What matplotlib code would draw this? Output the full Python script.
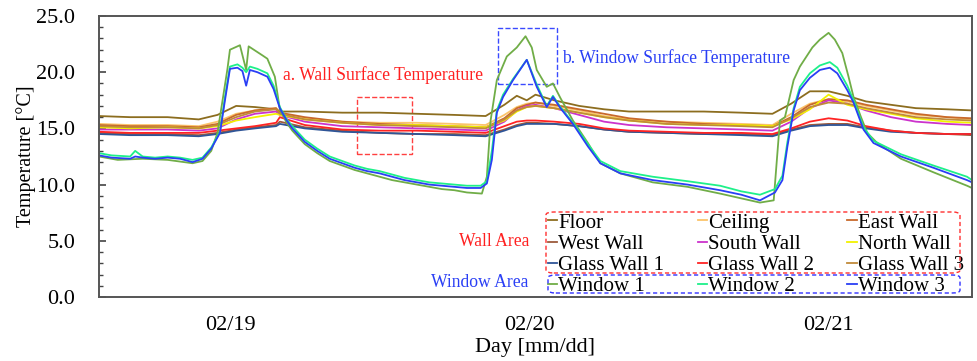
import matplotlib
matplotlib.use("Agg")
import matplotlib.pyplot as plt
from matplotlib.patches import FancyBboxPatch
from matplotlib.ticker import MultipleLocator, FormatStrFormatter

plt.rcParams['font.family'] = ['Liberation Serif', 'DejaVu Serif']

# hours counted from 02/19 00:00
wall_hours = [1.5, 4, 7, 9.5, 11, 12.5, 14, 15.7, 16.0, 18, 21, 24, 27, 30, 32.5, 34, 35, 35.8,
              36.5, 38, 40, 42, 44, 47, 50, 53, 55.5, 57, 58.5, 60, 61.5, 63, 65, 67, 69.5, 71.5]

floor = [16.1, 16.0, 16.0, 15.8, 16.2, 17.0, 16.9, 16.7, 16.5, 16.5, 16.4, 16.4, 16.3, 16.2, 16.1, 17.1, 17.9, 17.5,
         18.0, 17.5, 17.0, 16.7, 16.5, 16.5, 16.5, 16.4, 16.3, 17.2, 18.3, 18.3, 17.9, 17.4, 17.1, 16.8, 16.7, 16.6]
ceiling = [15.4, 15.3, 15.3, 15.2, 15.6, 16.3, 16.6, 16.8, 16.3, 15.9, 15.6, 15.5, 15.5, 15.4, 15.3, 16.2, 16.9, 17.2,
           17.3, 17.0, 16.6, 16.1, 15.8, 15.6, 15.5, 15.4, 15.3, 16.3, 17.2, 17.6, 17.4, 17.0, 16.6, 16.2, 16.0, 15.8]
east_wall = [15.3, 15.2, 15.2, 15.1, 15.4, 16.2, 16.6, 16.8, 16.4, 16.0, 15.6, 15.4, 15.3, 15.2, 15.1, 15.9, 16.8, 17.1,
             17.3, 17.1, 16.7, 16.3, 15.9, 15.6, 15.4, 15.3, 15.2, 16.0, 17.1, 17.6, 17.5, 17.1, 16.7, 16.3, 16.0, 15.9]
glass_wall_3 = [15.2, 15.1, 15.1, 15.0, 15.3, 16.0, 16.5, 16.7, 16.3, 15.8, 15.5, 15.3, 15.2, 15.1, 15.0, 15.8, 16.6, 16.9,
                17.0, 16.8, 16.4, 16.0, 15.7, 15.4, 15.3, 15.2, 15.1, 15.9, 16.9, 17.3, 17.2, 16.8, 16.4, 16.0, 15.8, 15.7]
north_wall = [15.1, 15.0, 15.1, 15.0, 15.2, 15.7, 16.0, 16.3, 16.2, 15.8, 15.5, 15.3, 15.3, 15.2, 15.1, 15.7, 16.5, 16.9,
              17.0, 16.8, 16.4, 16.0, 15.7, 15.4, 15.3, 15.3, 15.2, 15.8, 16.7, 18.0, 17.1, 16.7, 16.3, 15.9, 15.6, 15.5]
south_wall = [14.9, 14.9, 14.9, 14.8, 15.0, 15.8, 16.3, 16.5, 16.2, 15.6, 15.2, 15.1, 15.0, 14.9, 14.8, 15.6, 16.6, 17.0,
              17.1, 16.8, 16.2, 15.6, 15.3, 15.1, 15.0, 14.9, 14.8, 15.6, 16.8, 17.5, 17.2, 16.6, 16.0, 15.6, 15.4, 15.3]
glass_wall_2 = [14.7, 14.6, 14.6, 14.6, 14.8, 15.0, 15.2, 15.5, 16.0, 15.3, 14.9, 14.8, 14.8, 14.7, 14.6, 15.2, 15.6, 15.7,
                15.7, 15.6, 15.4, 15.0, 14.8, 14.7, 14.6, 14.6, 14.5, 15.0, 15.6, 15.9, 15.7, 15.2, 14.8, 14.6, 14.5, 14.5]
glass_wall_1 = [14.5, 14.4, 14.4, 14.3, 14.5, 14.8, 15.0, 15.2, 15.4, 15.0, 14.7, 14.6, 14.5, 14.4, 14.3, 14.8, 15.2, 15.4,
                15.4, 15.4, 15.2, 14.9, 14.7, 14.6, 14.5, 14.4, 14.3, 14.8, 15.2, 15.3, 15.3, 15.0, 14.7, 14.6, 14.5, 14.5]
west_wall = [14.6, 14.5, 14.5, 14.4, 14.6, 14.9, 15.1, 15.3, 15.6, 15.1, 14.8, 14.6, 14.5, 14.5, 14.4, 14.9, 15.3, 15.5,
             15.5, 15.4, 15.2, 14.9, 14.7, 14.6, 14.5, 14.5, 14.4, 14.9, 15.3, 15.4, 15.4, 15.1, 14.8, 14.6, 14.5, 14.4]

win1_hours = [1.5, 3, 5, 7, 9, 9.8, 10.5, 11.0, 11.8, 12.0, 12.8, 13.3, 13.5, 14.6, 15.0, 15.6, 16.0, 16.5, 17, 18,
              19, 20, 21, 22, 23, 24, 25, 26, 27, 28, 29, 30, 31, 32.2, 32.6, 32.9, 33.4, 34.2, 35.0, 35.7,
              36.2, 36.6, 37.4, 37.9, 38.5, 39.5, 40.7, 41.7, 43.3, 45.9, 48.7, 51.3, 54.5, 55.6, 56.1, 56.5,
              57.2, 57.7, 58.7, 59.3, 60.0, 60.5, 61.1, 61.6, 62.0, 62.6, 63.1, 63.9, 65.8, 68.4, 71.1, 71.5]
window_1 = [12.5, 12.2, 12.3, 12.2, 11.9, 12.1, 13.0, 14.6, 20.3, 22.0, 22.4, 20.2, 22.3, 21.5, 21.2, 19.6, 16.7, 15.6, 14.8, 13.6,
            12.8, 12.1, 11.7, 11.3, 11.0, 10.7, 10.4, 10.2, 10.0, 9.8, 9.6, 9.5, 9.3, 9.2, 10.7, 15.7, 19.3, 21.4, 22.2, 23.2,
            22.2, 20.2, 18.7, 19.0, 17.7, 15.7, 13.7, 11.9, 11.0, 10.2, 9.8, 9.2, 8.4, 8.6, 15.7, 16.0,
            19.3, 20.5, 22.2, 22.9, 23.5, 22.9, 21.7, 19.6, 17.8, 16.0, 14.6, 13.7, 12.3, 11.1, 9.9, 9.7]

win_hours = [1.5, 2.5, 4, 4.4, 5, 6, 7, 8, 9, 9.8, 10.5, 11.2, 11.6, 12, 12.6, 13.0, 13.3, 13.6, 14.2, 15.0,
             15.5, 16.0, 16.5, 17, 18, 19, 20, 21, 22, 23, 24, 25, 26, 27, 28, 29, 30, 31, 32.1, 32.6,
             33.0, 33.4, 33.9, 34.7, 35.8, 36.6, 37.4, 37.9, 38.5, 39.5, 40.7, 41.7, 43.3, 45.9, 48.7, 51.3,
             53, 54.5, 55.7, 56.3, 56.7, 57.2, 57.7, 58.5, 59.3, 60.1, 60.7, 61.5, 62.0, 62.8, 63.6, 65.8,
             68.4, 71.1, 71.5]
window_2 = [12.8, 12.6, 12.5, 13.0, 12.5, 12.4, 12.5, 12.4, 12.2, 12.4, 13.3, 14.7, 17.8, 20.5, 20.7, 20.4, 20.0, 20.5, 20.3, 19.9,
            18.8, 16.9, 15.9, 15.2, 14.0, 13.2, 12.5, 12.1, 11.7, 11.4, 11.2, 10.9, 10.6, 10.4, 10.2, 10.1, 10.0, 9.9, 9.9, 10.3,
            13.0, 16.6, 18.0, 19.4, 21.1, 18.9, 17.0, 17.9, 16.9, 15.5, 13.6, 12.1, 11.2, 10.7, 10.3, 9.9,
            9.4, 9.1, 9.6, 10.8, 13.8, 16.8, 18.7, 19.9, 20.6, 20.9, 20.4, 18.8, 17.5, 15.1, 13.9, 12.7,
            11.7, 10.7, 10.4]
window_3 = [12.6, 12.4, 12.3, 12.5, 12.4, 12.3, 12.4, 12.3, 12.0, 12.3, 13.2, 14.6, 17.5, 20.3, 20.4, 20.1, 18.8, 20.2, 20.0, 19.6,
            18.5, 16.8, 15.8, 15.0, 13.8, 13.0, 12.3, 11.9, 11.5, 11.2, 11.0, 10.7, 10.4, 10.2, 10.0, 9.9, 9.8, 9.7, 9.7, 10.1,
            12.2, 16.4, 17.8, 19.3, 21.1, 18.7, 16.9, 17.8, 16.8, 15.4, 13.4, 11.9, 11.0, 10.4, 10.0, 9.5,
            9.1, 8.6, 9.3, 10.4, 13.4, 16.6, 18.4, 19.5, 20.2, 20.4, 19.9, 18.4, 17.3, 14.9, 13.7, 12.5,
            11.5, 10.4, 10.2]

day_ticks = [12, 36, 60]
day_labels = ['02/19', '02/20', '02/21']

W, H = 978, 361
fig = plt.figure(figsize=(W / 100, H / 100), dpi=100)
ax = fig.add_axes([99 / W, 1 - 297 / H, 873 / W, 281 / H])

lines = {}
wall_series = [
    ('Floor', floor, '#8c6d1f'),
    ('Ceiling', ceiling, '#fbc46a'),
    ('East Wall', east_wall, '#c8692b'),
    ('West Wall', west_wall, '#9c5a3c'),
    ('South Wall', south_wall, '#cc33cc'),
    ('North Wall', north_wall, '#f2f200'),
    ('Glass Wall 1', glass_wall_1, '#2f5597'),
    ('Glass Wall 2', glass_wall_2, '#ff2424'),
    ('Glass Wall 3', glass_wall_3, '#c08a3a'),
]
for name, vals, col in wall_series:
    lines[name], = ax.plot(wall_hours, vals, color=col, lw=1.3, label=name)

lines['Window 1'], = ax.plot(win1_hours, window_1, color='#70ad47', lw=1.3, label='Window 1')
lines['Window 2'], = ax.plot(win_hours, window_2, color='#1ef08a', lw=1.3, label='Window 2')
lines['Window 3'], = ax.plot(win_hours, window_3, color='#2a3ff5', lw=1.3, label='Window 3')

ax.set_xlim(1.5, 71.5)
ax.set_ylim(0, 25)
ax.set_xticks(day_ticks)
ax.set_xticklabels(day_labels)
ax.tick_params(axis='x', length=0, pad=14, labelsize=16)
ax.yaxis.set_major_locator(MultipleLocator(5))
ax.yaxis.set_minor_locator(MultipleLocator(1))
ax.yaxis.set_major_formatter(FormatStrFormatter('%.1f'))
ax.tick_params(axis='y', which='major', direction='in', length=5, width=1.2, labelsize=16,
               color='#444444', pad=17)
ax.tick_params(axis='y', which='minor', direction='in', length=3, width=1.0, color='#444444')
for sp in ax.spines.values():
    sp.set_color('#555555')
    sp.set_linewidth(1.4)
ax.set_ylabel('Temperature [°C]', fontsize=14.5, labelpad=0)
ax.set_xlabel('Day [mm/dd]', fontsize=16, labelpad=2)

# legend, row order as in the reference
order = ['Floor', 'West Wall', 'Glass Wall 1', 'Window 1',
         'Ceiling', 'South Wall', 'Glass Wall 2', 'Window 2',
         'East Wall', 'North Wall', 'Glass Wall 3', 'Window 3']
ax.legend([lines[k] for k in order], order, ncol=3, frameon=False, fontsize=15,
          handlelength=0.45, handletextpad=0.05, columnspacing=1.6, labelspacing=0.08,
          loc='upper left', bbox_to_anchor=(548 / W, 1 - 213 / H), bbox_transform=fig.transFigure,
          borderpad=0, borderaxespad=0)

def px_box(x0, y0, x1, y1, col):
    box = FancyBboxPatch((x0 / W, 1 - y1 / H), (x1 - x0) / W, (y1 - y0) / H,
                         boxstyle='round,pad=0,rounding_size=0.008', transform=fig.transFigure,
                         fill=False, ec=col, ls=(0, (3, 2)), lw=1.0)
    fig.patches.append(box)

px_box(546, 212, 960, 273, '#ff3030')
px_box(548, 275, 960, 293, '#3030ff')

# annotations
ax.text(16.25, 19.75, 'a. Wall Surface Temperature', color='#ff2020', fontsize=12.7, va='center')
ax.text(38.65, 21.3, 'b. Window Surface Temperature', color='#2a3ff5', fontsize=12.7, va='center')
ax.add_patch(plt.Rectangle((22.2, 12.7), 4.4, 5.1, fill=False, ec='#ff4040', ls='--', lw=1.0))
ax.add_patch(plt.Rectangle((33.5, 18.95), 4.7, 4.95, fill=False, ec='#3a4aff', ls='--', lw=1.0))
ax.text(33.2, 4.9, 'Wall Area', color='#ff2020', fontsize=12.7, ha='center', va='center')
ax.text(32.0, 1.25, 'Window Area', color='#2a3ff5', fontsize=12.7, ha='center', va='center')

fig.savefig('out.png', dpi=100)
